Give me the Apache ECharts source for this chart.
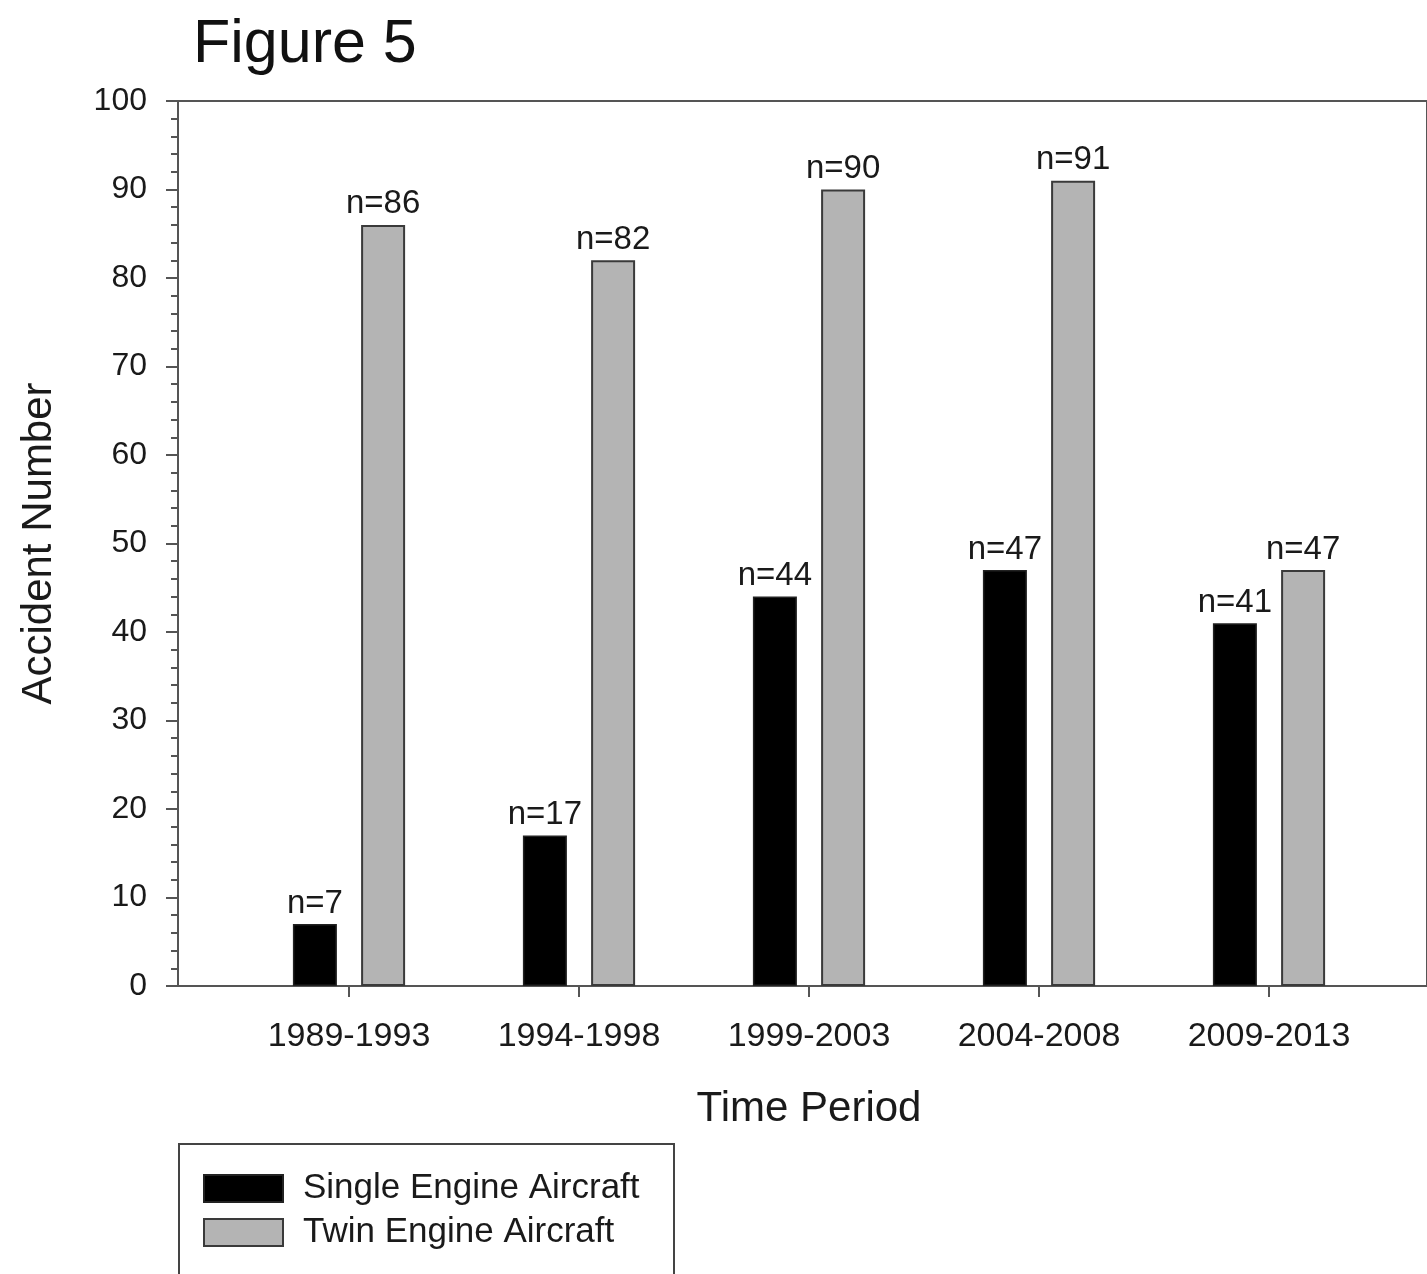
<!DOCTYPE html>
<html>
<head>
<meta charset="utf-8">
<script src="https://cdn.jsdelivr.net/npm/echarts@6/dist/echarts.min.js"></script>
<style>
html,body{margin:0;padding:0;background:#fff;}
#chart{width:1427px;height:1274px;}
</style>
</head>
<body>
<div id="chart"></div>
<script>
const periods = ['1989-1993', '1994-1998', '1999-2003', '2004-2008', '2009-2013'];
const singleEngine = [7, 17, 44, 47, 41];
const twinEngine = [86, 82, 90, 91, 47];
const yTicks = { min: 0, max: 100, interval: 10 };

const FONT = '"Liberation Sans", Arial, Helvetica, sans-serif';
const TXT = '#1a1a1a';
const LINE = '#555555';

const chart = echarts.init(document.getElementById('chart'), null, { renderer: 'canvas' });

const labelStyle = {
  show: true,
  position: 'top',
  distance: 4,
  formatter: 'n={c}',
  fontFamily: FONT,
  fontSize: 33,
  color: TXT
};

chart.setOption({
  backgroundColor: '#ffffff',
  animation: false,
  title: {
    text: 'Figure 5',
    left: 188,
    top: 10,
    textStyle: { fontFamily: FONT, fontSize: 61, fontWeight: 'normal', color: '#111' }
  },
  graphic: [
    {
      type: 'rect', left: 178, top: 1143, silent: true,
      shape: { width: 495, height: 160 },
      style: { fill: 'transparent', stroke: '#444', lineWidth: 2 }
    }
  ],
  legend: {
    orient: 'vertical',
    left: 178,
    top: 1143,
    itemWidth: 79,
    itemHeight: 27,
    itemGap: 9,
    icon: 'rect',
    padding: [28, 0, 0, 25],
    textStyle: { fontFamily: FONT, fontSize: 35, color: TXT, padding: [0, 0, 0, 15] },
    data: ['Single Engine Aircraft', 'Twin Engine Aircraft']
  },
  grid: [
    { left: 178, right: -10, top: 101, height: 885, show: true, borderColor: LINE, borderWidth: 2, backgroundColor: 'transparent' },
    { left: 234, width: 1150, top: 101, height: 885 }
  ],
  xAxis: [
    {
      gridIndex: 0, type: 'value', min: 0, max: 1,
      axisLine: { show: true, lineStyle: { color: LINE, width: 2 } },
      axisTick: { show: false }, axisLabel: { show: false }, splitLine: { show: false }
    },
    {
      gridIndex: 1, type: 'category', data: periods, boundaryGap: true,
      axisLine: { show: false },
      axisTick: { show: true, alignWithLabel: true, length: 11, lineStyle: { color: LINE, width: 2 } },
      axisLabel: { fontFamily: FONT, fontSize: 34, color: TXT, margin: 34 },
      name: 'Time Period', nameLocation: 'middle', nameGap: 102,
      nameTextStyle: { fontFamily: FONT, fontSize: 42, color: TXT }
    }
  ],
  yAxis: [
    {
      gridIndex: 0, type: 'value', min: yTicks.min, max: yTicks.max, interval: yTicks.interval,
      axisLine: { show: true, lineStyle: { color: LINE, width: 2 } },
      axisTick: { show: true, length: 12, lineStyle: { color: LINE, width: 2 } },
      minorTick: { show: true, splitNumber: 5, length: 7, lineStyle: { color: LINE, width: 2 } },
      axisLabel: { fontFamily: FONT, fontSize: 32, color: TXT, margin: 31 },
      splitLine: { show: false },
      name: 'Accident Number', nameLocation: 'middle', nameGap: 118, nameRotate: 90,
      nameTextStyle: { fontFamily: FONT, fontSize: 42, color: TXT }
    },
    {
      gridIndex: 1, type: 'value', min: yTicks.min, max: yTicks.max, show: false
    }
  ],
  series: [
    {
      name: 'Single Engine Aircraft', type: 'bar', xAxisIndex: 1, yAxisIndex: 1,
      data: singleEngine, barWidth: 44, barGap: '55%',
      itemStyle: { color: '#000000', borderColor: '#222', borderWidth: 1.5 },
      label: labelStyle
    },
    {
      name: 'Twin Engine Aircraft', type: 'bar', xAxisIndex: 1, yAxisIndex: 1,
      data: twinEngine, barWidth: 44,
      itemStyle: { color: '#b4b4b4', borderColor: '#3a3a3a', borderWidth: 2 },
      label: labelStyle
    }
  ]
});
</script>
</body>
</html>
